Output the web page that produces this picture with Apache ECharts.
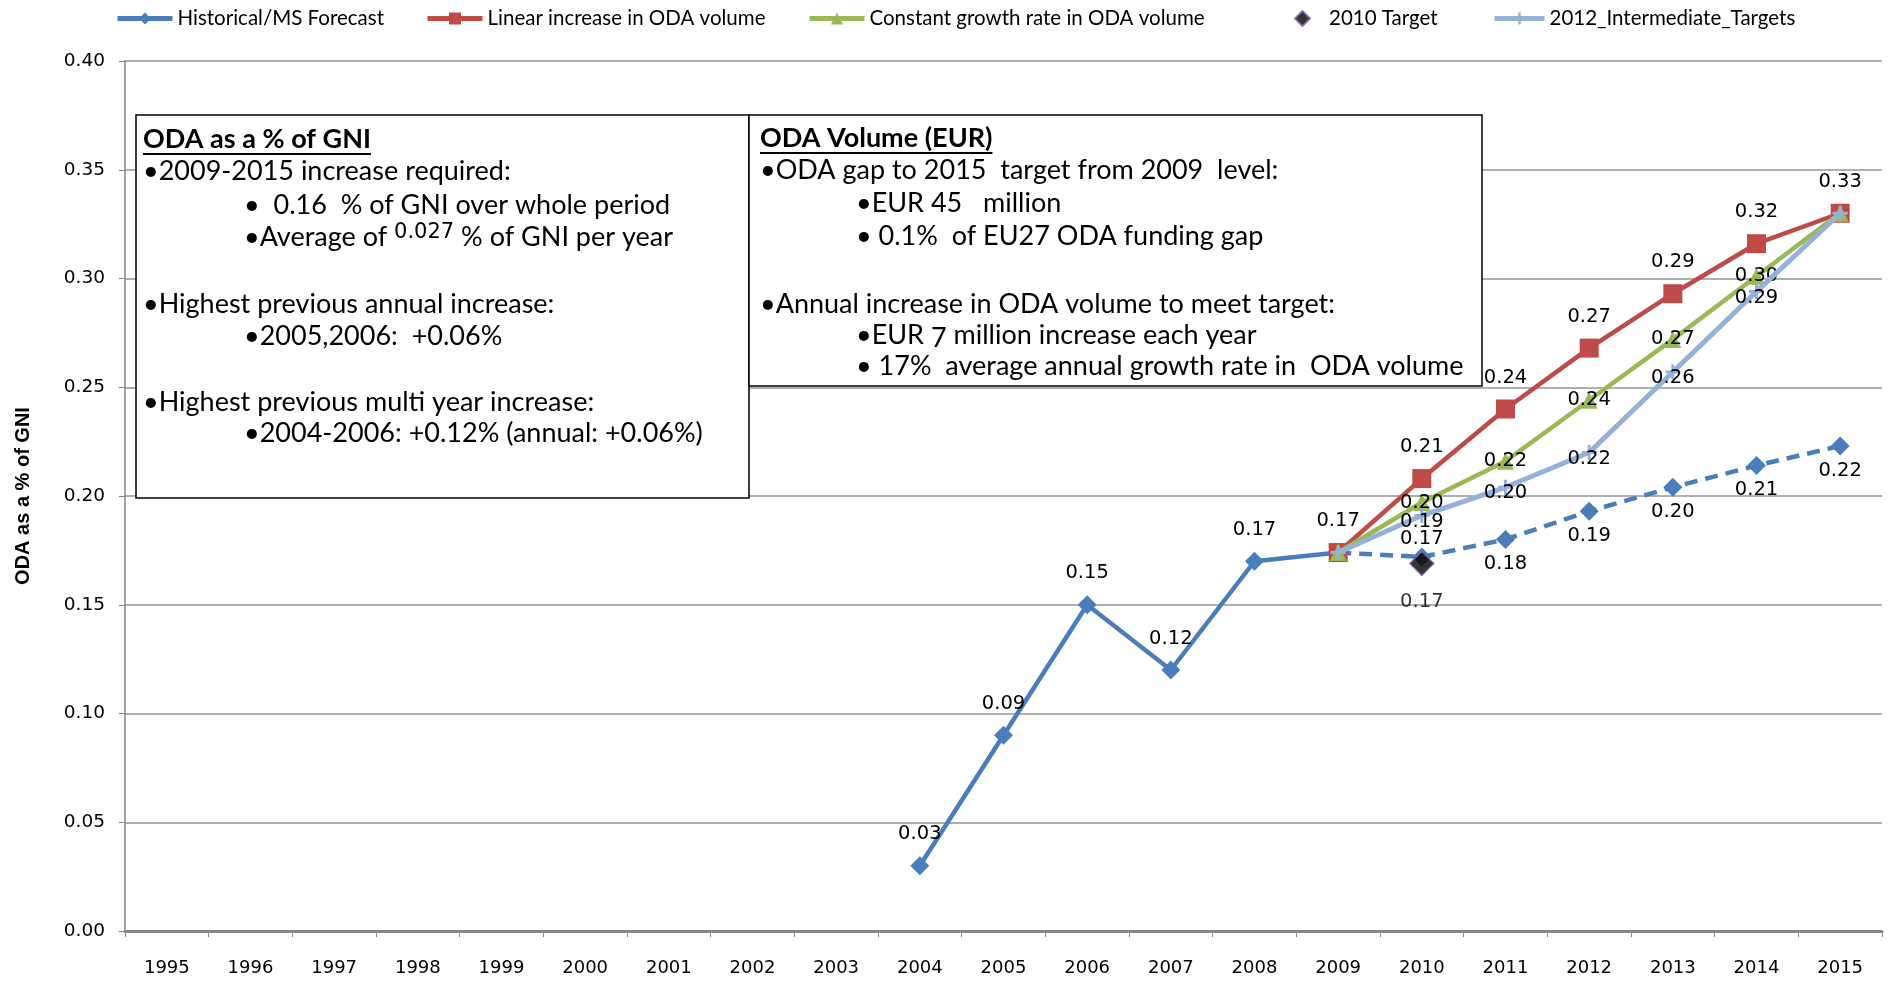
<!DOCTYPE html>
<html><head><meta charset="utf-8">
<script src="https://cdn.jsdelivr.net/npm/echarts@6/dist/echarts.min.js"></script>
<style>html,body{margin:0;padding:0;background:#fff}#c{width:1903px;height:981px}</style>
</head><body><div id="c"></div>
<script>
const years = ['1995','1996','1997','1998','1999','2000','2001','2002','2003','2004','2005','2006','2007','2008','2009','2010','2011','2012','2013','2014','2015'];
const N = null;
const historical       = [N,N,N,N,N,N,N,N,N,0.03,0.09,0.15,0.12,0.17,0.174,N,N,N,N,N,N];
const msForecast       = [N,N,N,N,N,N,N,N,N,N,N,N,N,N,0.174,0.172,0.180,0.193,0.204,0.214,0.223];
const linearIncrease   = [N,N,N,N,N,N,N,N,N,N,N,N,N,N,0.174,0.208,0.240,0.268,0.293,0.316,0.330];
const constantGrowth   = [N,N,N,N,N,N,N,N,N,N,N,N,N,N,0.174,0.197,0.216,0.244,0.272,0.301,0.330];
const target2010       = [N,N,N,N,N,N,N,N,N,N,N,N,N,N,N,0.169,N,N,N,N,N];
const intermediate2012 = [N,N,N,N,N,N,N,N,N,N,N,N,N,N,0.174,0.191,0.204,0.220,0.257,0.294,0.330];
const yMin = 0, yMax = 0.4, yStep = 0.05;

const names = ['Historical/MS Forecast','Linear increase in ODA volume','Constant growth rate in ODA volume','2010 Target','2012_Intermediate_Targets'];

const box1Lines = [
  ['ODA as a % of GNI', 0, true],
  ['•2009-2015 increase required:', 0],
  ['•  0.16  % of GNI over whole period', 1],
  ['•Average of {a|0.027} % of GNI per year', 1],
  ['•Highest previous annual increase:', 0],
  ['•2005,2006:  +0.06%', 1],
  ['•Highest previous multi year increase:', 0],
  ['•2004-2006: +0.12% (annual: +0.06%)', 1]
];
const box1Y = [139,171,205,237,304,336,402,433];
const box2Lines = [
  ['ODA Volume (EUR)', 0, true],
  ['•ODA gap to 2015  target from 2009  level:', 0],
  ['•EUR 45   million', 1],
  ['• 0.1%  of EU27 ODA funding gap', 1],
  ['•Annual increase in ODA volume to meet target:', 0],
  ['•EUR {b|7} million increase each year', 1],
  ['• 17%  average annual growth rate in  ODA volume', 1]
];
const box2Y = [138,170,203,236,304,335,366];

const C_BLUE='#4A7EBB', C_RED='#BE4B48', C_GREEN='#98B954', C_LB='#95B0D9';
const LBL = {fontFamily:'DejaVu Sans', fontSize:19.5, color:'#000'};
const fmt = p => (p.value==null?'':Number(p.value).toFixed(2));

function mk(vals, hide){
  return vals.map((v,i)=> v==null? null : (hide.indexOf(i)>=0 ? {value:v,label:{show:false}} : v));
}

const TF = 'Lato, "Open Sans", sans-serif';
const TS = 27;
const cv = document.createElement('canvas').getContext('2d');
function tw(t, bold){ cv.font = (bold?'bold ':'') + TS + 'px Lato'; return cv.measureText(t).width; }

function boxGraphics(lines, ys, x0, xi){
  const g = [];
  lines.forEach((ln, k)=>{
    const x = ln[1] ? xi : x0;
    g.push({type:'text', x:x, y:ys[k], z:10, style:{text:ln[0], fontFamily:TF, fontSize:TS, fontWeight: ln[2]?'bold':'normal', fill:'#000', verticalAlign:'middle', align:'left',
      rich:{a:{fontFamily:'DejaVu Sans', fontSize:21, padding:[0,0,9,0], fill:'#000'},
            b:{fontFamily:TF, fontSize:TS, padding:[7,0,0,0], fill:'#000'}}}});
    if (ln[2]) {
      const w = tw(ln[0], true);
      g.push({type:'line', z:10, shape:{x1:x, y1:ys[k]+15, x2:x+w, y2:ys[k]+15}, style:{stroke:'#000', lineWidth:1.8}});
    }
  });
  return g;
}

const graphics = [
  {type:'rect', z:9, shape:{x:136, y:115, width:613, height:383}, style:{fill:'#fff', stroke:'#000', lineWidth:1.5}},
  {type:'rect', z:9, shape:{x:749, y:115, width:733, height:271}, style:{fill:'#fff', stroke:'#000', lineWidth:1.5}}
].concat(boxGraphics(box1Lines, box1Y, 143, 244)).concat(boxGraphics(box2Lines, box2Y, 760, 856));

const legFont = {fontFamily:TF, fontSize:20.5, color:'#000'};
function leg(name, left, w, extra){
  return Object.assign({data:[name], left:left, top:8, padding:0, itemWidth:w, itemHeight:15,
    lineStyle:{width:5}, textStyle:Object.assign({}, legFont)}, extra||{});
}

const plusPath = 'path://M4,0 L6,0 L6,4 L10,4 L10,6 L6,6 L6,10 L4,10 L4,6 L0,6 L0,4 L4,4 Z';

const option = {
  animation:false,
  backgroundColor:'#fff',
  grid:{left:125, right:21, top:61, bottom:50},
  legend:[
    leg(names[0], 115, 55),
    leg(names[1], 425, 55),
    leg(names[2], 807, 55),
    leg(names[3], 1294, 15, {textStyle:Object.assign({}, legFont, {padding:[0,0,0,14]})}),
    leg(names[4], 1492, 50)
  ],
  xAxis:{type:'category', data:years, boundaryGap:true,
    axisLine:{lineStyle:{color:'#868686', width:3}},
    axisTick:{show:true, length:6, lineStyle:{color:'#868686', width:1}},
    axisLabel:{fontFamily:'DejaVu Sans', fontSize:18, color:'#000', margin:28},
    splitLine:{show:false}},
  yAxis:{type:'value', min:yMin, max:yMax, interval:yStep,
    name:'ODA as a % of GNI', nameLocation:'middle', nameGap:92, nameRotate:90,
    nameTextStyle:{fontFamily:'Liberation Sans, Arial, sans-serif', fontWeight:'bold', fontSize:20, color:'#000'},
    axisLine:{show:true, lineStyle:{color:'#868686', width:1.5}},
    axisTick:{show:true, length:6, lineStyle:{color:'#868686'}},
    axisLabel:{fontFamily:'DejaVu Sans', fontSize:18.5, color:'#000', margin:20, formatter:v=>v.toFixed(2)},
    splitLine:{lineStyle:{color:'#959595', width:1.5}}},
  graphic:graphics,
  series:[
    {name:names[0], type:'line', data:mk(historical,[]), symbol:'diamond', symbolSize:19, z:3,
      lineStyle:{color:C_BLUE, width:4.5}, itemStyle:{color:C_BLUE},
      label:Object.assign({show:true, position:'top', distance:12, formatter:fmt}, LBL)},
    {name:names[0], type:'line', data:mk(msForecast,[14]), symbol:'diamond', symbolSize:19, z:3,
      lineStyle:{color:C_BLUE, width:4.5, type:[13,8]}, itemStyle:{color:C_BLUE},
      label:Object.assign({show:true, position:'bottom', distance:5, formatter:fmt}, LBL)},
    {name:names[1], type:'line', data:mk(linearIncrease,[14]), symbol:'rect', symbolSize:19, z:4,
      lineStyle:{color:C_RED, width:4.5}, itemStyle:{color:C_RED},
      label:Object.assign({show:true, position:'top', distance:12, formatter:fmt}, LBL)},
    {name:names[2], type:'line', data:mk(constantGrowth,[14,20]), symbol:'triangle', symbolSize:17, z:5,
      lineStyle:{color:C_GREEN, width:4.5}, itemStyle:{color:C_GREEN},
      label:Object.assign({show:true, position:'inside', formatter:fmt}, LBL)},
    {name:names[4], type:'line', data:mk(intermediate2012,[14,20]), symbol:plusPath, symbolSize:15, z:6,
      lineStyle:{color:C_LB, width:5}, itemStyle:{color:C_LB},
      label:Object.assign({show:true, position:'inside', offset:[0,6], formatter:fmt}, LBL)},
    {name:names[3], type:'scatter', data:target2010, symbol:'diamond', symbolSize:24, z:7,
      itemStyle:{color:'#000', borderColor:'#7F5FA8', borderWidth:1.5},
      label:Object.assign({show:true, position:'bottom', distance:16, formatter:fmt}, LBL)}
  ]
};
option.series[1].data[15] = {value:msForecast[15], label:{position:'top', distance:-2}};

const chart = echarts.init(document.getElementById('c'), null, {renderer:'canvas'});
chart.setOption(option);
</script></body></html>
